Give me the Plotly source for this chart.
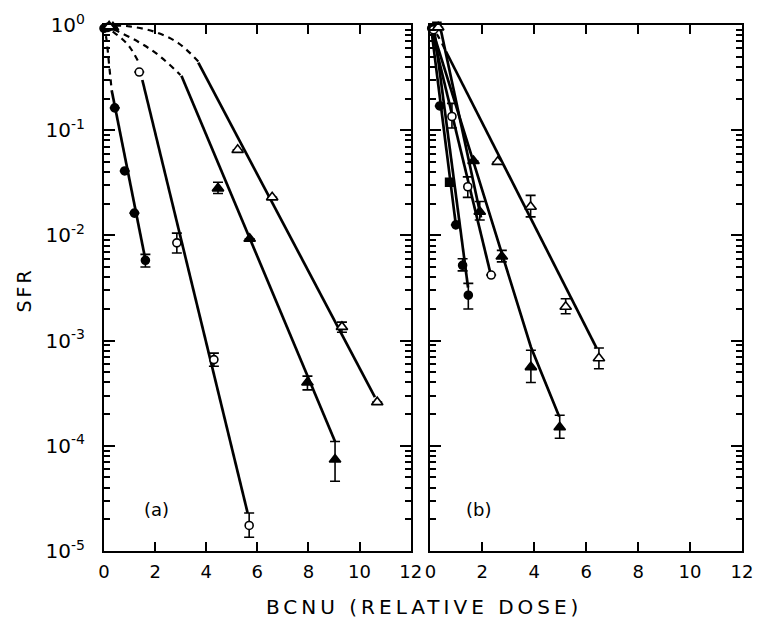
import plotly.graph_objects as go

# ---------------- data ----------------
# Panel (a)
a_fc_dose = [0.0, 0.42, 0.81, 1.19, 1.62]
a_fc_sfr = [0.93, 0.163, 0.041, 0.0163, 0.0058]
a_fc_hi = [0.93, 0.163, 0.041, 0.0163, 0.0066]
a_fc_lo = [0.93, 0.163, 0.041, 0.0163, 0.0050]
a_fc_dash_x = [0.0, 0.1, 0.2, 0.3]
a_fc_dash_y = [1.0, 0.72, 0.42, 0.24]
a_fc_line_x = [0.3, 1.65]
a_fc_line_y = [0.24, 0.0054]

a_oc_dose = [0.15, 1.38, 2.85, 4.3, 5.68]
a_oc_sfr = [0.95, 0.357, 0.0085, 6.6e-4, 1.75e-5]
a_oc_hi = [0.95, 0.357, 0.0105, 7.6e-4, 2.3e-5]
a_oc_lo = [0.95, 0.357, 0.0068, 5.7e-4, 1.35e-5]
a_oc_dash_x = [0.0, 0.3, 0.7, 1.0, 1.32]
a_oc_dash_y = [1.0, 0.88, 0.74, 0.62, 0.46]
a_oc_line_x = [1.5, 5.62]
a_oc_line_y = [0.30, 2.3e-5]

a_ft_dose = [0.35, 4.46, 5.7, 7.96, 9.04]
a_ft_sfr = [0.95, 0.028, 0.0093, 4.0e-4, 7.4e-5]
a_ft_hi = [0.95, 0.032, 0.0093, 4.6e-4, 1.1e-4]
a_ft_lo = [0.95, 0.025, 0.0093, 3.4e-4, 4.6e-5]
a_ft_dash_x = [0.0, 0.5, 1.35, 2.12, 2.99]
a_ft_dash_y = [1.0, 0.88, 0.69, 0.52, 0.335]
a_ft_line_x = [3.03, 9.04]
a_ft_line_y = [0.33, 1.1e-4]

a_ot_dose = [0.2, 5.23, 6.58, 9.31, 10.69]
a_ot_sfr = [0.97, 0.065, 0.023, 0.00135, 2.6e-4]
a_ot_hi = [0.97, 0.065, 0.023, 0.0015, 2.6e-4]
a_ot_lo = [0.97, 0.065, 0.023, 0.0012, 2.6e-4]
a_ot_dash_x = [0.0, 1.0, 1.99, 2.92, 3.69]
a_ot_dash_y = [1.0, 0.97, 0.86, 0.67, 0.45]
a_ot_line_x = [3.69, 10.6]
a_ot_line_y = [0.44, 2.9e-4]

# Panel (b)
b_fc_dose = [0.05, 0.36, 0.98, 1.24, 1.46]
b_fc_sfr = [0.93, 0.17, 0.0126, 0.0052, 0.0027]
b_fc_hi = [0.93, 0.17, 0.0126, 0.0060, 0.0035]
b_fc_lo = [0.93, 0.17, 0.0126, 0.0046, 0.0020]
b_fc_line1_x = [0.05, 1.0]
b_fc_line1_y = [0.85, 0.0115]
b_fc_line2_x = [0.15, 1.45]
b_fc_line2_y = [0.89, 0.0032]

b_fs_dose = [0.25, 0.74]
b_fs_sfr = [0.97, 0.032]

b_oc_dose = [0.12, 0.83, 1.44, 2.34]
b_oc_sfr = [0.9, 0.135, 0.029, 0.0042]
b_oc_hi = [0.9, 0.18, 0.036, 0.0042]
b_oc_lo = [0.9, 0.105, 0.023, 0.0042]
b_oc_line_x = [0.1, 2.3]
b_oc_line_y = [0.79, 0.0045]

b_ft2_dose = [1.90]
b_ft2_sfr = [0.0168]
b_ft2_hi = [0.021]
b_ft2_lo = [0.014]
b_ft2_line_x = [0.4, 1.95]
b_ft2_line_y = [0.9, 0.0148]

b_ft_dose = [1.66, 2.75, 3.87, 4.98]
b_ft_sfr = [0.051, 0.0063, 5.6e-4, 1.5e-4]
b_ft_hi = [0.051, 0.0072, 8.1e-4, 1.95e-4]
b_ft_lo = [0.051, 0.0056, 4.0e-4, 1.18e-4]
b_ft_line_x = [0.05, 2.79, 3.87, 4.96]
b_ft_line_y = [0.95, 0.0063, 8.7e-4, 1.9e-4]

b_ot_dose = [0.3, 2.59, 3.86, 5.21, 6.49]
b_ot_sfr = [0.95, 0.050, 0.0187, 0.0021, 6.8e-4]
b_ot_hi = [0.95, 0.050, 0.024, 0.0025, 8.5e-4]
b_ot_lo = [0.95, 0.050, 0.015, 0.0018, 5.4e-4]
b_ot_dash_x = [0.0, 0.3, 0.6]
b_ot_dash_y = [1.0, 0.78, 0.56]
b_ot_line_x = [0.6, 6.4]
b_ot_line_y = [0.56, 8.5e-4]

y_tick_vals = [1, 1e-1, 1e-2, 1e-3, 1e-4, 1e-5]
y_tick_text = ["10<sup>0</sup>", "10<sup>-1</sup>", "10<sup>-2</sup>",
               "10<sup>-3</sup>", "10<sup>-4</sup>", "10<sup>-5</sup>"]
x_tick_vals = [0, 2, 4, 6, 8, 10, 12]
x_tick_text = ["0", "2", "4", "6", "8", "10", "12"]

# ---------------- figure ----------------
fig = go.Figure()
INK = "black"


def add_line(xs, ys, xa, ya, dash="solid", width=2.7, shape="linear"):
    fig.add_trace(go.Scatter(x=xs, y=ys, mode="lines", xaxis=xa, yaxis=ya,
                             line=dict(color=INK, width=width, dash=dash, shape=shape),
                             showlegend=False, hoverinfo="skip"))


def add_pts(xs, ys, xa, ya, symbol, hollow=False, hi=None, lo=None, size=9):
    err = None
    if hi is not None:
        err = dict(type="data", symmetric=False,
                   array=[h - v for h, v in zip(hi, ys)],
                   arrayminus=[v - l for v, l in zip(ys, lo)],
                   color=INK, thickness=1.6, width=5)
    fig.add_trace(go.Scatter(x=xs, y=ys, mode="markers", xaxis=xa, yaxis=ya,
                             marker=dict(symbol=symbol, size=size,
                                         color="white" if hollow else INK,
                                         line=dict(color=INK, width=1.6)),
                             error_y=err, cliponaxis=False, showlegend=False))


DASH = "6px,5px"
# panel (a)
add_line(a_fc_dash_x, a_fc_dash_y, "x", "y", DASH, 2.2, "spline")
add_line(a_fc_line_x, a_fc_line_y, "x", "y")
add_line(a_oc_dash_x, a_oc_dash_y, "x", "y", DASH, 2.2, "spline")
add_line(a_oc_line_x, a_oc_line_y, "x", "y")
add_line(a_ft_dash_x, a_ft_dash_y, "x", "y", DASH, 2.2, "spline")
add_line(a_ft_line_x, a_ft_line_y, "x", "y")
add_line(a_ot_dash_x, a_ot_dash_y, "x", "y", DASH, 2.2, "spline")
add_line(a_ot_line_x, a_ot_line_y, "x", "y")
add_pts(a_fc_dose, a_fc_sfr, "x", "y", "circle", False, a_fc_hi, a_fc_lo, 8)
add_pts(a_oc_dose, a_oc_sfr, "x", "y", "circle", True, a_oc_hi, a_oc_lo, 8)
add_pts(a_ft_dose, a_ft_sfr, "x", "y", "triangle-up", False, a_ft_hi, a_ft_lo, 10)
add_pts(a_ot_dose, a_ot_sfr, "x", "y", "triangle-up", True, a_ot_hi, a_ot_lo, 10)

# panel (b)
add_line(b_fc_line1_x, b_fc_line1_y, "x2", "y2")
add_line(b_fc_line2_x, b_fc_line2_y, "x2", "y2")
add_line(b_oc_line_x, b_oc_line_y, "x2", "y2")
add_line(b_ft2_line_x, b_ft2_line_y, "x2", "y2")
add_line(b_ft_line_x, b_ft_line_y, "x2", "y2")
add_line(b_ot_dash_x, b_ot_dash_y, "x2", "y2", DASH, 2.2, "spline")
add_line(b_ot_line_x, b_ot_line_y, "x2", "y2")
add_pts(b_fc_dose, b_fc_sfr, "x2", "y2", "circle", False, b_fc_hi, b_fc_lo, 8)
add_pts(b_fs_dose, b_fs_sfr, "x2", "y2", "square", False, None, None, 8)
add_pts(b_oc_dose, b_oc_sfr, "x2", "y2", "circle", True, b_oc_hi, b_oc_lo, 8)
add_pts(b_ft2_dose, b_ft2_sfr, "x2", "y2", "triangle-up", False, b_ft2_hi, b_ft2_lo, 10)
add_pts(b_ft_dose, b_ft_sfr, "x2", "y2", "triangle-up", False, b_ft_hi, b_ft_lo, 10)
add_pts(b_ot_dose, b_ot_sfr, "x2", "y2", "triangle-up", True, b_ot_hi, b_ot_lo, 10)

minor_vals = [k * 10 ** e for e in range(-5, 0) for k in range(2, 10)]
FONT = "DejaVu Sans"
ytickfont = dict(family=FONT, size=20, color=INK)
xtickfont = dict(family=FONT, size=18, color=INK)

yax = dict(type="log", range=[-5, 0], tickmode="array", tickvals=y_tick_vals,
           ticktext=y_tick_text, ticks="inside", ticklen=11, tickwidth=2,
           tickcolor=INK, showline=True, linecolor=INK, linewidth=2,
           mirror="ticks", showgrid=False, zeroline=False, tickfont=ytickfont,
           ticklabelstandoff=13,
           minor=dict(tickmode="array", tickvals=minor_vals, ticks="inside",
                      ticklen=6, tickwidth=1.5, tickcolor=INK, showgrid=False))
xax = dict(range=[0, 12], tickmode="array", tickvals=x_tick_vals, ticktext=x_tick_text,
           ticks="inside", ticklen=9, tickwidth=2, tickcolor=INK, showline=True,
           linecolor=INK, linewidth=2, mirror="ticks", showgrid=False,
           zeroline=False, tickfont=xtickfont, ticklabelstandoff=3)

fig.update_layout(
    width=764, height=618,
    margin=dict(l=104, r=11, t=25, b=67),
    paper_bgcolor="white", plot_bgcolor="white",
    showlegend=False,
    xaxis=dict(xax, domain=[0, 0.4807], anchor="y"),
    xaxis2=dict(xax, domain=[0.5116, 1], anchor="y2"),
    yaxis=dict(yax, domain=[0, 1], anchor="x"),
    yaxis2=dict(yax, domain=[0, 1], anchor="x2", showticklabels=False),
    annotations=[
        dict(text="(a)", x=0.0817, y=0.078, xref="paper", yref="paper",
             xanchor="center", yanchor="middle", showarrow=False,
             font=dict(family=FONT, size=18, color=INK)),
        dict(text="(b)", x=0.587, y=0.078, xref="paper", yref="paper",
             xanchor="center", yanchor="middle", showarrow=False,
             font=dict(family=FONT, size=18, color=INK)),
        dict(text="<span style='letter-spacing:3px'>SFR</span>", x=-0.1248, y=0.496,
             xref="paper", yref="paper", textangle=-90, showarrow=False,
             xanchor="center", yanchor="middle",
             font=dict(family=FONT, size=19, color=INK)),
        dict(text="<span style='letter-spacing:4px'>BCNU (RELATIVE DOSE)</span>",
             x=0.502, y=-0.1065, xref="paper", yref="paper", showarrow=False,
             xanchor="center", yanchor="middle",
             font=dict(family=FONT, size=20, color=INK)),
    ],
)

fig.write_html("out.html")
